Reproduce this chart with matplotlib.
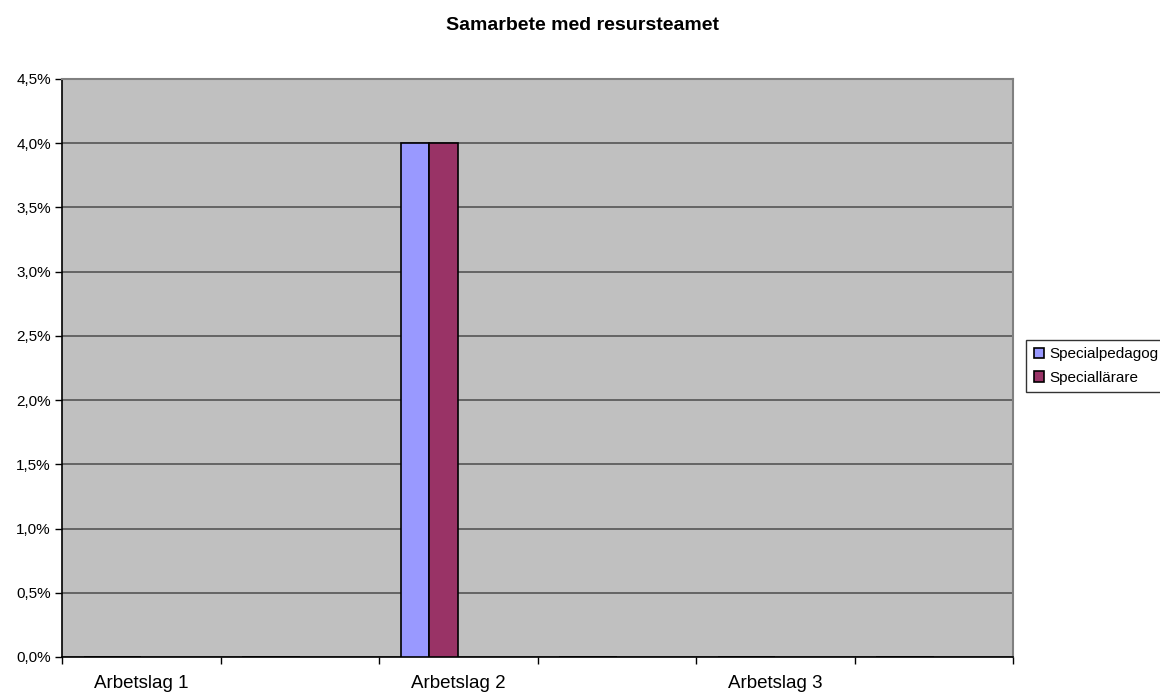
import numpy as np
import matplotlib.pyplot as plt
from matplotlib.ticker import FuncFormatter, MultipleLocator

plt.rcParams['font.family'] = ['Liberation Sans', 'DejaVu Sans']

# data
categories = ['Arbetslag 1', '', 'Arbetslag 2', '', 'Arbetslag 3', '']
specialpedagog = [0, 0, 0.04, 0, 0, 0]
speciallarare = [0, 0, 0.04, 0, 0, 0]
series_names = ['Specialpedagog', 'Speciallärare']

fig = plt.figure(figsize=(11.6, 6.96), dpi=100)
ax = fig.add_axes([62/1160, 1-657/696, (1013-62)/1160, (657-79)/696])
ax.set_facecolor('#C0C0C0')

x = np.arange(len(categories))
w = 1/5.5  # 4 series slots, gap width 150%
ax.bar(x - 1.5*w, specialpedagog, w, align='center', color='#9999FF',
       edgecolor='black', linewidth=1.2, label=series_names[0], zorder=3)
ax.bar(x - 0.5*w, speciallarare, w, align='center', color='#993366',
       edgecolor='black', linewidth=1.2, label=series_names[1], zorder=3)

ax.set_xlim(-0.5, len(categories) - 0.5)
ax.set_ylim(0, 0.045)
ax.yaxis.set_major_locator(MultipleLocator(0.005))
ax.yaxis.set_major_formatter(FuncFormatter(lambda v, p: ('%.1f%%' % (v*100)).replace('.', ',')))
ax.grid(axis='y', color='#555555', linewidth=1.2, zorder=1)
ax.set_axisbelow(True)

ax.set_xticks(x)
ax.set_xticklabels(categories, fontsize=13.5)
ax.set_xticks(np.arange(-0.5, len(categories)), minor=True)
ax.tick_params(axis='x', which='major', length=0, pad=13)
ax.tick_params(axis='x', which='minor', length=5, direction='out', width=1)
ax.tick_params(axis='y', labelsize=11, length=5, width=1, direction='out', pad=3)

for s in ['left', 'bottom']:
    ax.spines[s].set_color('black')
    ax.spines[s].set_linewidth(1.2)
for s in ['top', 'right']:
    ax.spines[s].set_color('#808080')
    ax.spines[s].set_linewidth(1.5)

fig.text(583/1160, 1-26/696, 'Samarbete med resursteamet', ha='center', va='center',
         fontsize=14, fontweight='bold')

leg = fig.legend(loc='center left', bbox_to_anchor=(1026/1160, 1-366/696), fontsize=11,
                 frameon=True, fancybox=False, edgecolor='black', handlelength=0.7,
                 handleheight=0.7, handletextpad=0.3, borderpad=0.5, labelspacing=0.6,
                 borderaxespad=0)
leg.get_frame().set_linewidth(1)

plt.savefig('out.png', dpi=100)
